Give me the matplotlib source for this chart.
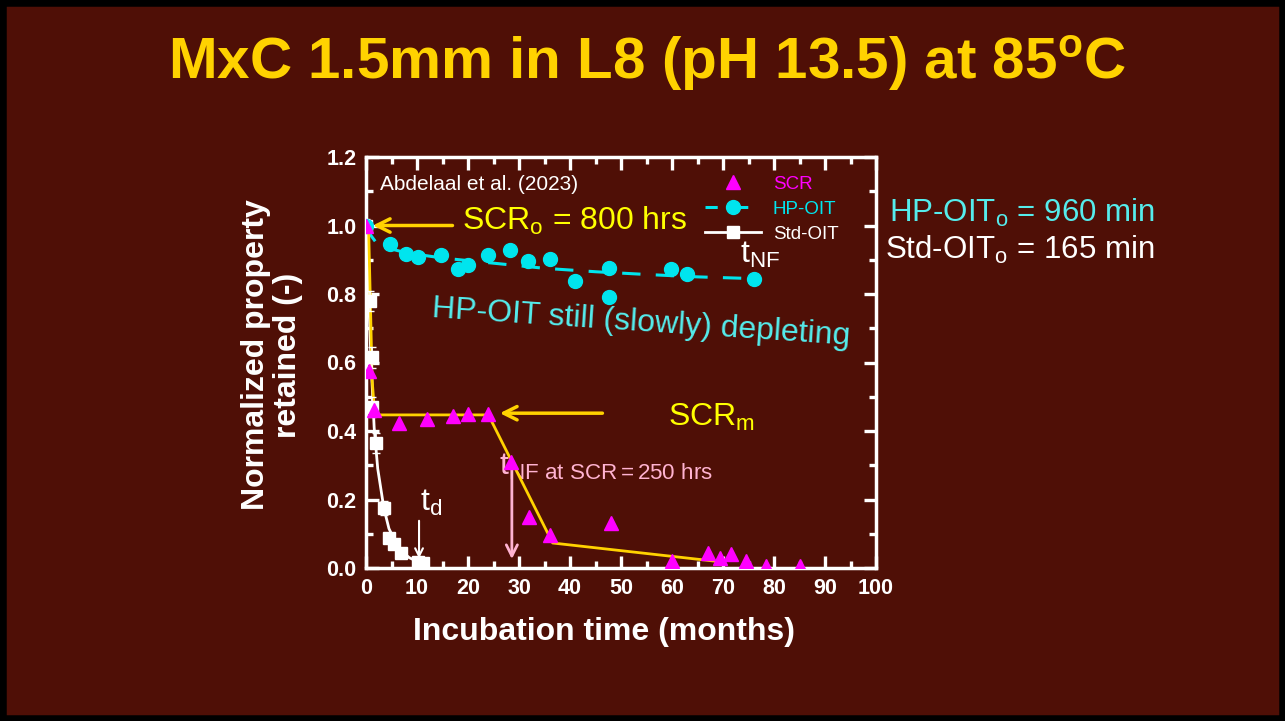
import matplotlib
matplotlib.use("Agg")
import matplotlib.pyplot as plt
from matplotlib.patches import Rectangle
from matplotlib.ticker import MultipleLocator

plt.rcParams['font.family'] = ['Liberation Sans', 'DejaVu Sans']
plt.rcParams['mathtext.fontset'] = 'custom'
plt.rcParams['mathtext.rm'] = 'Liberation Sans'
plt.rcParams['mathtext.it'] = 'Liberation Sans:italic'
plt.rcParams['mathtext.bf'] = 'Liberation Sans:bold'

# ---------------- data ----------------
scr_t = [0, 0.5, 1.5, 6.5, 12, 17, 20, 24, 28.5, 32, 36, 48, 60, 67, 69.5, 71.5, 74.5, 78.5, 85]
scr_v = [1.0, 0.575, 0.46, 0.423, 0.435, 0.444, 0.45, 0.45, 0.31, 0.15, 0.095, 0.13, 0.02, 0.045, 0.03, 0.04, 0.02, 0.005, 0.005]

scr_fit_t = [0.5, 0.9, 1.2, 1.6, 2.0, 24, 36.6, 68.4]
scr_fit_v = [1.0, 0.75, 0.55, 0.47, 0.447, 0.447, 0.073, 0.02]

hp_t = [0, 4.7, 7.9, 10.2, 14.7, 18.1, 20.0, 24, 28.3, 31.8, 36.1, 40.9, 47.7, 47.7, 59.9, 62.9, 76]
hp_v = [1.0, 0.946, 0.917, 0.908, 0.914, 0.873, 0.885, 0.914, 0.928, 0.896, 0.902, 0.838, 0.876, 0.79, 0.873, 0.858, 0.844]

hp_fit_t = [0, 1, 2, 4, 8, 15, 25, 35, 45, 55, 65, 76]
hp_fit_v = [1.0, 0.97, 0.95, 0.935, 0.92, 0.905, 0.89, 0.875, 0.865, 0.857, 0.85, 0.845]

std_t = [0, 0.7, 1.2, 1.2, 2.0, 3.5, 4.5, 5.5, 6.9, 10.2, 11.2]
std_v = [1.0, 0.78, 0.615, 0.47, 0.365, 0.175, 0.088, 0.07, 0.044, 0.018, 0.015]
std_err = [0.02, 0.03, 0.03, 0.03, 0.03, 0.02, 0.01, 0.01, 0.01, 0.01, 0.01]

std_fit_t = [0, 0.5, 1.0, 1.6, 2.3, 3.5, 4.5, 6.5, 8.5, 10.2, 12]
std_fit_v = [1.0, 0.8, 0.6, 0.41, 0.29, 0.175, 0.115, 0.055, 0.03, 0.018, 0.01]

x_ticks = [0, 10, 20, 30, 40, 50, 60, 70, 80, 90, 100]
y_ticks = [0.0, 0.2, 0.4, 0.6, 0.8, 1.0, 1.2]

# ---------------- style ----------------
BG = '#4f0f06'
GOLD = '#ffd200'
YEL = '#ffff00'
MAG = '#ff00ff'
CYAN = '#00e5ee'
CYAN_T = '#55ecec'
PINK = '#ffb3d1'
WHITE = 'white'
FS = 23

fig = plt.figure(figsize=(12.85, 7.21), dpi=100, facecolor=BG)
fig.patches.append(Rectangle((0, 0), 1, 1, transform=fig.transFigure,
                             fill=False, edgecolor='black', lw=9, zorder=10))

ax = fig.add_axes([366/1285, 1-568/721, 510/1285, 411/721])
ax.set_facecolor(BG)

ax.set_xlim(0, 100)
ax.set_ylim(0, 1.2)
ax.set_xticks(x_ticks)
ax.set_yticks(y_ticks)
ax.set_yticklabels([f"{v:.1f}" for v in y_ticks])
ax.xaxis.set_minor_locator(MultipleLocator(5))
ax.yaxis.set_minor_locator(MultipleLocator(0.1))
ax.tick_params(which='both', direction='in', top=True, right=True, colors=WHITE,
               width=2.4, labelsize=15.5, pad=7)
ax.tick_params(which='major', length=9)
ax.tick_params(which='minor', length=5)
for lab in ax.get_xticklabels() + ax.get_yticklabels():
    lab.set_fontweight('bold')
for sp in ax.spines.values():
    sp.set_color(WHITE)
    sp.set_linewidth(2.5)

ax.set_xlabel('Incubation time (months)', fontsize=FS, fontweight='bold', color=WHITE)
ax.xaxis.set_label_coords((604-366)/510, -(632-568)/411)
ax.xaxis.label.set_va('center')
ax.set_ylabel('Normalized property\nretained (-)', fontsize=FS, fontweight='bold', color=WHITE,
              linespacing=1.05)
ax.yaxis.set_label_coords(-(366-272)/510, (568-355)/411)
ax.yaxis.label.set_va('center')

# fits
ax.plot(std_fit_t, std_fit_v, color=WHITE, lw=2, zorder=3)
ax.plot(hp_fit_t, hp_fit_v, color=CYAN, lw=2.2, dashes=(6, 5), zorder=3)
ax.plot(scr_fit_t, scr_fit_v, color=GOLD, lw=2, zorder=4)

# data
ax.errorbar(std_t, std_v, yerr=std_err, fmt='none', ecolor=WHITE, elinewidth=1.2, capsize=3, zorder=4)
ax.plot(std_t, std_v, 's', color=WHITE, ms=8.5, zorder=5)
ax.plot(hp_t, hp_v, 'o', color=CYAN, ms=10, zorder=5)
ax.plot(scr_t, scr_v, '^', color=MAG, ms=10, zorder=6)

# legend
h1, = ax.plot([], [], '^', color=MAG, ms=10)
h2, = ax.plot([], [], 'o--', color=CYAN, ms=10, lw=2.2, dashes=(4, 6))
h3, = ax.plot([], [], 's-', color=WHITE, ms=8.5, lw=2)
ax.legend([h1, h2, h3], ['SCR', 'HP-OIT', 'Std-OIT'], loc='upper left',
          bbox_to_anchor=(0.665, 0.955), frameon=False, fontsize=13.5,
          labelcolor=[MAG, CYAN, WHITE], handlelength=3.0, labelspacing=0.42,
          borderpad=0, borderaxespad=0, handletextpad=0.6)

# annotations
ax.text(2.7, 1.12, 'Abdelaal et al. (2023)', color=WHITE, fontsize=15, va='center', ha='left')
ax.text(18.8, 1.013, r'SCR$_\mathrm{o}$ = 800 hrs', color=YEL, fontsize=FS, va='center', ha='left')
ax.annotate('', xy=(0.8, 1.0), xytext=(17.5, 1.0),
            arrowprops=dict(arrowstyle='->', color=GOLD, lw=2.5, mutation_scale=24))
ax.text(73.3, 0.914, r't$_\mathrm{NF}$', color=WHITE, fontsize=FS, va='center', ha='left')
ax.text(53.9, 0.715, 'HP-OIT still (slowly) depleting', color=CYAN_T, fontsize=FS,
        va='center', ha='center', rotation=-3.8, rotation_mode='anchor')
ax.text(59.2, 0.44, r'SCR$_\mathrm{m}$', color=YEL, fontsize=FS, va='center', ha='left')
ax.annotate('', xy=(25.7, 0.452), xytext=(46.9, 0.452),
            arrowprops=dict(arrowstyle='->', color=GOLD, lw=2.5, mutation_scale=24))
ax.text(26.0, 0.295, r't$_\mathrm{NF\ at\ SCR{=}250\ hrs}$', color=PINK, fontsize=FS,
        va='center', ha='left')
ax.annotate('', xy=(28.6, 0.018), xytext=(28.6, 0.324),
            arrowprops=dict(arrowstyle='->', color=PINK, lw=2, mutation_scale=20))
ax.text(10.6, 0.19, r't$_\mathrm{d}$', color=WHITE, fontsize=FS, va='center', ha='left')
ax.annotate('', xy=(10.4, 0.02), xytext=(10.4, 0.146),
            arrowprops=dict(arrowstyle='->', color=WHITE, lw=1.5, mutation_scale=14))

fig.text(889/1285, 1-213/721, r'HP-OIT$_\mathrm{o}$ = 960 min', color=CYAN_T, fontsize=22.5,
         va='center', ha='left')
fig.text(885/1285, 1-250/721, r'Std-OIT$_\mathrm{o}$ = 165 min', color=WHITE, fontsize=22.5,
         va='center', ha='left')
fig.text(0.5035, 1-63/721, r'MxC 1.5mm in L8 (pH 13.5) at 85$^{\mathbf{o}}$C', color=GOLD,
         fontsize=42, fontweight='bold', va='center', ha='center')

fig.savefig('out.png', dpi=100, facecolor=BG)
